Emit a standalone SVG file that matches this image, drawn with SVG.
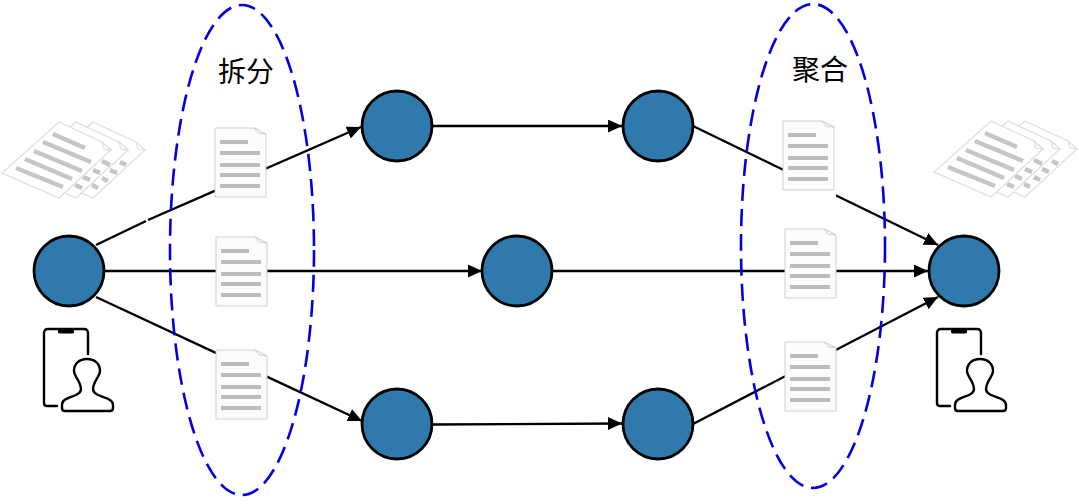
<svg xmlns="http://www.w3.org/2000/svg" width="1079" height="504" viewBox="0 0 1079 504">
<style>
.edge{fill:none;stroke:#000;stroke-width:2.4}
.node{fill:#2f79ad;stroke:#000;stroke-width:2.8}
.group{fill:none;stroke:#0000e0;stroke-width:2.6;stroke-dasharray:17 8}
.sheet{fill:#fcfbfe;stroke:#cfcfd2;stroke-width:1}
.fold{fill:#fff;stroke:#cfcfd2;stroke-width:1}
.bar{stroke:#bcbcbe;stroke-width:4.200;fill:none}
.paper{fill:#fff;stroke:#dedede;stroke-width:1.2}
.pbar{stroke:#c6c6c6;stroke-width:4.500;fill:none}
.outline{fill:none;stroke:#000;stroke-width:2.4;stroke-linecap:round;stroke-linejoin:round}
.label{font-family:"Noto Sans CJK SC","Noto Sans CJK JP",serif;font-size:28px;fill:#000;text-anchor:middle}
</style>
<defs>
<marker id="arrow" markerUnits="userSpaceOnUse" markerWidth="15" markerHeight="14" refX="14" refY="6.500" orient="auto"><path d="M0 0L14 6.500L0 13Z" fill="#000"/></marker>
<g id="doc">
<path class="sheet" d="M0 0H39L51 6V69H0Z"/>
<path class="fold" d="M39 0L51 6L43 5Z"/>
<path class="bar" d="M5 14H33M5 25H45M5 37H45M5 47H45M5 58H45"/>
</g>
<g id="paper">
<path class="paper" d="M57 0L100 20L109 28L57 76L0 51Z"/>
<path class="paper" d="M100 20L109 28L102 27Z"/>
</g>
<g id="stack">
<use href="#paper" x="34"/>
<path class="pbar" d="M118 40L124 43M108 48L115 51M100 56L106 59M90 63L96 66"/>
<use href="#paper" x="17"/>
<path class="pbar" d="M100 39L108 43M91 48L98 51M81 55L88 58M73 63L80 66"/>
<use href="#paper"/>
<path class="pbar" d="M51 12L83 26M41 20L89 40M32 29L80 49M23 37L70 57M14 46L61 65"/>
</g>
<g id="person">
<path class="outline" d="M43 25V4Q43 0 39 0H3Q-1 0 -1 4V74Q-1 77 2 77H12"/>
<path d="M13 0H29V3Q29 4.500 27 4.500H15Q13 4.500 13 3Z" fill="#000"/>
<path class="outline" d="M20 82H65Q68 82 68 79V76C68 70 60 69 53 66C47 63 47 60 50 53C53 47 55 46 55 42C55 35 50 30 42 30C34 30 29 35 29 42C29 46 31 47 34 53C37 60 37 63 31 66C24 69 17 70 17 76V79Q17 82 20 82Z"/>
</g>
</defs>

<g id="stack-left"><use href="#stack" transform="translate(2 122)"/></g>
<g id="stack-right"><use href="#stack" transform="translate(934 121)"/></g>

<g id="connectors">
<path class="edge" d="M96 245L146 221M148 220L361 127" marker-end="url(#arrow)"/>
<path class="edge" d="M105 271H482" marker-end="url(#arrow)"/>
<path class="edge" d="M96 297L362 421" marker-end="url(#arrow)"/>
<path class="edge" d="M433 126H622" marker-end="url(#arrow)"/>
<path class="edge" d="M433 424.500L622 423.500" marker-end="url(#arrow)"/>
<path class="edge" d="M553 271H928" marker-end="url(#arrow)"/>
<path class="edge" d="M693 126L938 245" marker-end="url(#arrow)"/>
<path class="edge" d="M693 424L938 297" marker-end="url(#arrow)"/>
</g>

<g id="group-split"><ellipse class="group" cx="242" cy="250" rx="72" ry="245"/><text class="label" x="246" y="82">拆分</text></g>
<g id="group-merge"><ellipse class="group" cx="813" cy="246" rx="72" ry="242"/><text class="label" x="820" y="80">聚合</text></g>

<g id="doc-1"><use href="#doc" x="215" y="128"/></g>
<g id="doc-2"><use href="#doc" x="216" y="237"/></g>
<g id="doc-3"><use href="#doc" x="216" y="350"/></g>
<g id="doc-4"><rect x="780" y="190" width="56" height="9" fill="#fff"/><use href="#doc" x="783" y="121"/></g>
<g id="doc-5"><use href="#doc" x="785" y="229"/></g>
<g id="doc-6"><use href="#doc" x="785" y="342"/></g>

<g id="node-a"><circle class="node" cx="69" cy="271" r="35"/></g>
<g id="node-b"><circle class="node" cx="397" cy="126" r="35"/></g>
<g id="node-c"><circle class="node" cx="658" cy="126" r="35"/></g>
<g id="node-d"><circle class="node" cx="517" cy="271" r="35"/></g>
<g id="node-e"><circle class="node" cx="397" cy="424" r="35"/></g>
<g id="node-f"><circle class="node" cx="658" cy="424" r="35"/></g>
<g id="node-g"><circle class="node" cx="964" cy="271" r="35"/></g>

<g id="user-left"><use href="#person" x="45" y="329"/></g>
<g id="user-right"><use href="#person" x="938" y="329"/></g>
</svg>
